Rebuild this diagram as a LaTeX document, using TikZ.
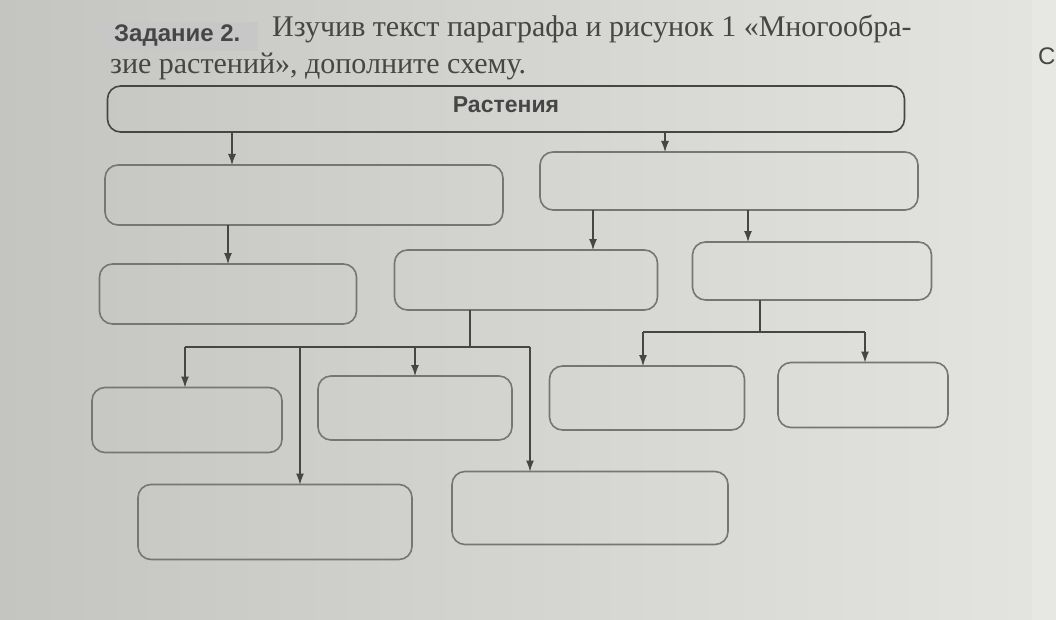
\documentclass[tikz,border=0pt]{standalone}
\usepackage{fontspec}
\setmainfont{Liberation Serif}
\newfontfamily\headfont{Liberation Sans}
\usetikzlibrary{arrows.meta,positioning}
\definecolor{paperL}{RGB}{196,196,193}
\definecolor{paperR}{RGB}{228,228,224}
\definecolor{ink}{RGB}{70,70,70}
\definecolor{boxgray}{RGB}{118,118,116}

\begin{document}
\begin{tikzpicture}[x=1pt,y=-1pt,
  box/.style={draw=boxgray,line width=1.6pt,rounded corners=13pt,inner sep=0pt,outer sep=0pt},
  arr/.style={draw=ink,line width=1.1pt,-{Latex[length=11pt,width=8pt]}},
  line/.style={draw=ink,line width=1.1pt},
  words/.style={anchor=west,inner sep=0pt,text=ink}]
\useasboundingbox (0,0) rectangle (1056,620);
\fill[left color=paperL,right color=paperR] (0,0) rectangle (1056,620);
\fill[paperR!90!white] (1032,0) rectangle (1056,620);
% heading
\fill[black!22] (100,22) rectangle (258,51);
\node[words,font=\headfont\bfseries\fontsize{24}{26}\selectfont] (task) at (114,36) {Задание 2.};
\node[words,font=\fontsize{30}{32}\selectfont] (line1) at (272,29) {Изучив текст параграфа и рисунок 1 «Многообра-};
\node[words,font=\fontsize{30}{32}\selectfont] (line2) at (110,66) {зие растений», дополните схему.};
\node[words,font=\headfont\fontsize{24}{26}\selectfont] (edge) at (1038,56) {С};
% boxes
\node[box,draw=ink,minimum width=797pt,minimum height=46pt,
  font=\headfont\bfseries\fontsize{23}{25}\selectfont,text=ink] (top) at (506,109) {\raisebox{9pt}{Растения}};
\foreach \n/\x/\y/\w/\h in {l2/304/195/398/60, r2/729/181/378/58,
  a3/228/294/257/60, b3/526/280/263/60, c3/812/271/239/58,
  d4/187/420/190/65, e4/415/408/194/64, f4/647/398/195/64, g4/863/395/170/65,
  h5/275/522/274/75, i5/590/508/276/73}
  \node[box,minimum width=\w pt,minimum height=\h pt] (\n) at (\x,\y) {};
% arrows
\foreach \s/\t/\x in {top/l2/232, top/r2/665, l2/a3/228, r2/b3/593, r2/c3/748}
  \draw[arr] (\s.south -| \x,0) -- (\t.north -| \x,0);
\coordinate (jb) at (470,347);
\coordinate (jc) at (760,332);
\draw[line] (b3.south -| jb) -- (jb);
\draw[line] (jb -| 185,0) -- (jb -| 530,0);
\foreach \t/\x in {d4/185, e4/415, h5/300, i5/530}
  \draw[arr] (jb -| \x,0) -- (\t.north -| \x,0);
\draw[line] (c3.south -| jc) -- (jc);
\draw[line] (jc -| 643,0) -- (jc -| 865,0);
\foreach \t/\x in {f4/643, g4/865}
  \draw[arr] (jc -| \x,0) -- (\t.north -| \x,0);
\end{tikzpicture}
\end{document}
